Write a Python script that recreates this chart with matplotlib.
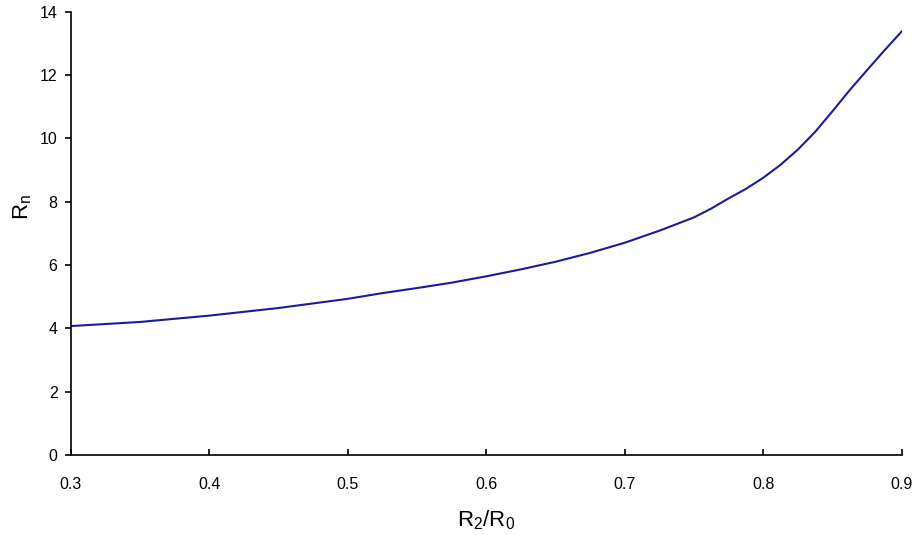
"""
Rn as a function of the radius ratio R2/R0.
"""

import matplotlib

matplotlib.use("Agg")
import matplotlib.pyplot as plt

# values
ratio = [0.30, 0.35, 0.40, 0.45, 0.50, 0.525, 0.55, 0.575, 0.60, 0.625,
         0.65, 0.675, 0.70, 0.725, 0.75, 0.7625, 0.775, 0.7875, 0.80,
         0.8125, 0.825, 0.8375, 0.85, 0.8625, 0.875, 0.8875, 0.90]
rn = [4.07, 4.20, 4.40, 4.64, 4.93, 5.11, 5.27, 5.44, 5.64, 5.86,
      6.10, 6.38, 6.70, 7.08, 7.50, 7.78, 8.10, 8.40, 8.75,
      9.16, 9.64, 10.20, 10.85, 11.52, 12.15, 12.77, 13.37]

x_ticks = [0.3, 0.4, 0.5, 0.6, 0.7, 0.8, 0.9]
y_ticks = [0, 2, 4, 6, 8, 10, 12, 14]


def main() -> None:
    plt.rcParams["font.family"] = ["Liberation Sans", "DejaVu Sans"]

    fig = plt.figure(figsize=(9.17, 5.35), dpi=100)
    ax = fig.add_axes([0.0771, 0.1495, 0.9062, 0.829])

    ax.plot(ratio, rn, color="#1c1c96", linewidth=1.5)

    ax.set_xlim(0.3, 0.9)
    ax.set_ylim(0, 14)
    ax.set_xticks(x_ticks)
    ax.set_xticklabels([f"{v:.1f}" for v in x_ticks])
    ax.set_yticks(y_ticks)

    for side in ("top", "right"):
        ax.spines[side].set_visible(False)
    for side in ("left", "bottom"):
        ax.spines[side].set_linewidth(1.2)

    ax.tick_params(axis="x", direction="in", length=4, width=1.2,
                   pad=16, labelsize=11.5)
    ax.tick_params(axis="y", direction="out", length=4, width=1.2,
                   pad=5.5, labelsize=11.5)

    ax.set_xlabel(r"$\mathregular{R_2/R_0}$", fontsize=16, va="center")
    ax.set_ylabel(r"$\mathregular{R_n}$", fontsize=16, va="center")
    ax.xaxis.set_label_coords(0.5, -0.147)
    ax.yaxis.set_label_coords(-0.058, 0.56)

    fig.savefig("out.png", dpi=100)
    plt.close(fig)


if __name__ == "__main__":
    main()
